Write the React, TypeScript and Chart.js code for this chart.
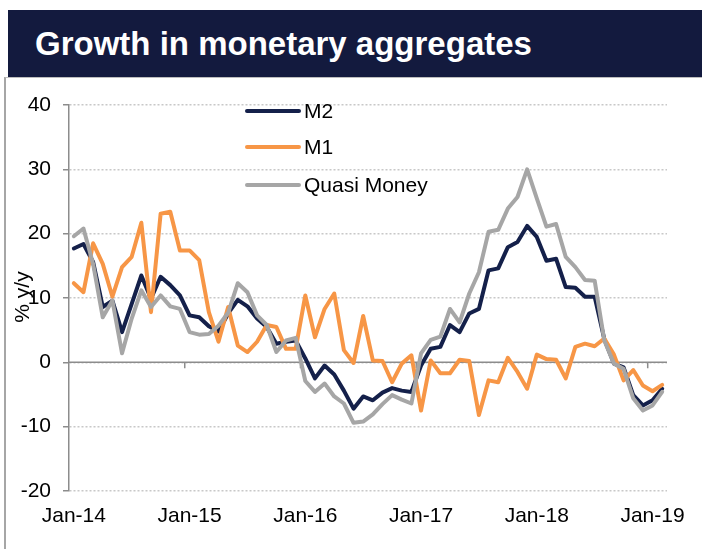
import React, { useEffect, useRef } from 'react';
import { Chart, registerables } from 'chart.js';

Chart.register(...registerables);

const categories = [
  'Jan-14', 'Feb-14', 'Mar-14', 'Apr-14', 'May-14', 'Jun-14', 'Jul-14', 'Aug-14', 'Sep-14', 'Oct-14', 'Nov-14', 'Dec-14',
  'Jan-15', 'Feb-15', 'Mar-15', 'Apr-15', 'May-15', 'Jun-15', 'Jul-15', 'Aug-15', 'Sep-15', 'Oct-15', 'Nov-15', 'Dec-15',
  'Jan-16', 'Feb-16', 'Mar-16', 'Apr-16', 'May-16', 'Jun-16', 'Jul-16', 'Aug-16', 'Sep-16', 'Oct-16', 'Nov-16', 'Dec-16',
  'Jan-17', 'Feb-17', 'Mar-17', 'Apr-17', 'May-17', 'Jun-17', 'Jul-17', 'Aug-17', 'Sep-17', 'Oct-17', 'Nov-17', 'Dec-17',
  'Jan-18', 'Feb-18', 'Mar-18', 'Apr-18', 'May-18', 'Jun-18', 'Jul-18', 'Aug-18', 'Sep-18', 'Oct-18', 'Nov-18', 'Dec-18',
  'Jan-19', 'Feb-19',
];

const m2 = [
  17.7, 18.4, 15.6, 8.6, 9.6, 4.7, 9.1, 13.5, 9.9, 13.3, 12.0, 10.4,
  7.3, 7.0, 5.6, 4.8, 7.6, 9.7, 8.7, 6.8, 5.5, 2.9, 3.2, 3.4,
  0.6, -2.5, -0.5, -1.9, -4.4, -7.2, -5.3, -5.9, -4.7, -4.0, -4.4, -4.6,
  -0.5, 2.1, 2.4, 5.8, 4.7, 7.6, 8.3, 14.3, 14.6, 17.9, 18.7, 21.2,
  19.5, 15.8, 16.1, 11.7, 11.6, 10.2, 10.2, 3.6, -0.2, -0.8, -5.1, -6.7,
  -5.9, -4.1,
];

const m1 = [
  12.3, 10.9, 18.5, 15.3, 10.2, 14.8, 16.4, 21.7, 7.8, 23.1, 23.4, 17.4,
  17.4, 15.9, 7.8, 3.2, 8.6, 2.6, 1.6, 3.2, 5.8, 5.5, 2.1, 2.1,
  10.4, 3.9, 8.3, 10.7, 1.9, -0.1, 7.2, 0.3, 0.2, -3.1, -0.2, 1.1,
  -7.5, 0.3, -1.7, -1.7, 0.4, 0.2, -8.2, -2.8, -3.1, 0.7, -1.5, -4.1,
  1.2, 0.5, 0.4, -2.5, 2.4, 2.9, 2.5, 3.7, 1.2, -2.8, -1.2, -3.6,
  -4.5, -3.5,
];

const quasiMoney = [
  19.6, 20.8, 15.3, 7.0, 9.6, 1.4, 6.8, 11.2, 8.6, 10.4, 8.7, 8.3,
  4.7, 4.3, 4.4, 5.7, 7.7, 12.3, 10.9, 7.3, 5.8, 1.6, 3.4, 3.8,
  -2.9, -4.6, -3.3, -5.3, -6.4, -9.4, -9.2, -8.1, -6.5, -5.1, -5.8, -6.4,
  1.4, 3.5, 4.0, 8.3, 6.2, 10.7, 14.0, 20.3, 20.6, 23.9, 25.7, 30.0,
  25.5, 21.1, 21.5, 16.4, 14.8, 12.8, 12.7, 3.4, -0.2, -1.0, -5.6, -7.5,
  -6.7, -4.6,
];

const yMin = -20;
const yMax = 40;
const yStep = 10;

const NAVY = '#14204a';
const ORANGE = '#f79646';
const GREY = '#a6a6a6';
const FONT = '"Liberation Sans", Arial, sans-serif';

const customPlugin = {
  id: 'customDecor',
  beforeDatasetsDraw(chart: any) {
    const { ctx, chartArea, scales } = chart;
    const xs = scales.x;
    const ys = scales.y;
    const y0 = ys.getPixelForValue(0);
    const step = xs.getPixelForValue(1) - xs.getPixelForValue(0);
    ctx.save();
    ctx.strokeStyle = '#8c8c8c';
    ctx.lineWidth = 1.5;
    ctx.beginPath();
    ctx.moveTo(chartArea.left, y0);
    ctx.lineTo(chartArea.right, y0);
    categories.forEach((c, i) => {
      if (i % 12 === 0 && i > 0) {
        const px = xs.getPixelForValue(i) - step / 2;
        ctx.moveTo(px, y0);
        ctx.lineTo(px, y0 + 6);
      }
    });
    ctx.stroke();
    ctx.restore();
  },
  afterDatasetsDraw(chart: any) {
    const { ctx } = chart;
    const rows = [33, 69, 107];
    ctx.save();
    chart.data.datasets.forEach((ds: any, i: number) => {
      const y = rows[i];
      ctx.strokeStyle = ds.borderColor;
      ctx.lineWidth = 4;
      ctx.lineCap = 'round';
      ctx.beginPath();
      ctx.moveTo(247, y);
      ctx.lineTo(299, y);
      ctx.stroke();
      ctx.fillStyle = '#000';
      ctx.font = `21px ${FONT}`;
      ctx.textAlign = 'left';
      ctx.textBaseline = 'middle';
      ctx.fillText(ds.label, 304, y + 1);
    });
    ctx.translate(23, 219);
    ctx.rotate(-Math.PI / 2);
    ctx.fillStyle = '#000';
    ctx.font = `21px ${FONT}`;
    ctx.textAlign = 'center';
    ctx.textBaseline = 'middle';
    ctx.fillText('% y/y', 0, 0);
    ctx.restore();
  },
};

export default function App() {
  const canvasRef = useRef<HTMLCanvasElement | null>(null);

  useEffect(() => {
    if (!canvasRef.current) return;
    const chart = new Chart(canvasRef.current, {
      type: 'line',
      data: {
        labels: categories,
        datasets: [
          { label: 'M2', data: m2, borderColor: NAVY, backgroundColor: NAVY, borderWidth: 4, pointRadius: 0, tension: 0, borderJoinStyle: 'round', borderCapStyle: 'round', order: 3 },
          { label: 'M1', data: m1, borderColor: ORANGE, backgroundColor: ORANGE, borderWidth: 4, pointRadius: 0, tension: 0, borderJoinStyle: 'round', borderCapStyle: 'round', order: 2 },
          { label: 'Quasi Money', data: quasiMoney, borderColor: GREY, backgroundColor: GREY, borderWidth: 4, pointRadius: 0, tension: 0, borderJoinStyle: 'round', borderCapStyle: 'round', order: 1 },
        ],
      },
      options: {
        responsive: false,
        animation: false,
        devicePixelRatio: 1,
        layout: { padding: { left: 0, top: 27, right: 35, bottom: 0 } },
        plugins: {
          legend: { display: false },
          tooltip: { enabled: false },
          title: { display: false },
        },
        scales: {
          x: {
            type: 'category',
            offset: true,
            grid: { display: false, drawTicks: false },
            border: { display: false },
            ticks: {
              autoSkip: false,
              maxRotation: 0,
              minRotation: 0,
              padding: 13,
              color: '#000',
              font: { family: FONT, size: 21 },
              callback: (_v: any, i: number) => (i % 12 === 0 ? categories[i] : ''),
            },
            afterFit: (scale: any) => { scale.height = 58; },
          },
          y: {
            min: yMin,
            max: yMax,
            ticks: {
              stepSize: yStep,
              padding: 12,
              color: '#000',
              font: { family: FONT, size: 21 },
            },
            grid: {
              color: '#c8c8c8',
              lineWidth: 1.5,
              drawTicks: true,
              tickLength: 6,
              tickColor: '#8c8c8c',
              tickWidth: 1.5,
            },
            border: { display: true, color: '#8c8c8c', width: 1.5, dash: [2, 2] },
            afterFit: (scale: any) => { scale.width = 69; },
          },
        },
      },
      plugins: [customPlugin],
    });
    return () => chart.destroy();
  }, []);

  return (
    <div style={{ position: 'fixed', left: 0, top: 0, width: 702, height: 549, background: '#fff', overflow: 'hidden' }}>
      <div
        style={{
          position: 'absolute', left: 8, top: 10, width: 694, height: 67, background: '#131a3e',
          color: '#fff', fontFamily: FONT, fontWeight: 'bold', fontSize: 33, lineHeight: '67px',
          paddingLeft: 27, boxSizing: 'border-box', whiteSpace: 'nowrap',
        }}
      >
        Growth in monetary aggregates
      </div>
      <div style={{ position: 'absolute', left: 4, top: 77, width: 720, height: 500, borderLeft: '2px solid #a6a6a6', borderTop: '1px solid #bdbdbd' }} />
      <canvas ref={canvasRef} width={702} height={471} style={{ position: 'absolute', left: 0, top: 78, width: 702, height: 471 }} />
    </div>
  );
}
